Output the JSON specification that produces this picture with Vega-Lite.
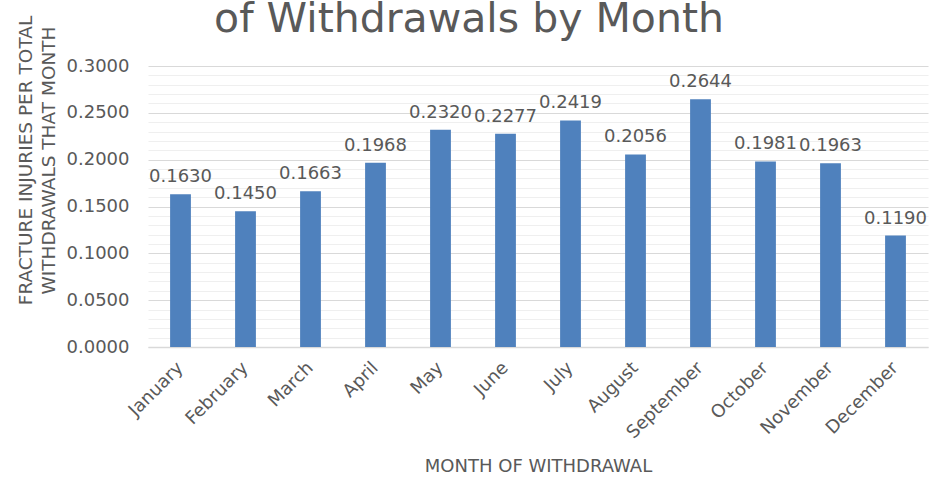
{
  "$schema": "https://vega.github.io/schema/vega-lite/v6.json",
  "width": 780,
  "height": 281,
  "autosize": {"type": "none"},
  "padding": {"left": 148, "top": 66, "right": 1, "bottom": 131},
  "background": "white",
  "config": {"view": {"stroke": null}, "font": "DejaVu Sans"},
  "title": {
    "text": "of Withdrawals by Month",
    "fontSize": 41,
    "font": "DejaVu Sans",
    "fontWeight": "normal",
    "color": "#595959",
    "anchor": "middle",
    "frame": "group",
    "dx": -69,
    "dy": 58,
    "baseline": "alphabetic",
    "offset": 0
  },
  "data": {
    "values": [
      {"month": "January", "value": 0.1630},
      {"month": "February", "value": 0.1450},
      {"month": "March", "value": 0.1663},
      {"month": "April", "value": 0.1968},
      {"month": "May", "value": 0.2320},
      {"month": "June", "value": 0.2277},
      {"month": "July", "value": 0.2419},
      {"month": "August", "value": 0.2056},
      {"month": "September", "value": 0.2644},
      {"month": "October", "value": 0.1981},
      {"month": "November", "value": 0.1963},
      {"month": "December", "value": 0.1190}
    ]
  },
  "encoding": {
    "x": {
      "field": "month",
      "type": "nominal",
      "sort": null,
      "scale": {"paddingInner": 0.68, "paddingOuter": 0.34},
      "axis": {
        "title": "MONTH OF WITHDRAWAL",
        "titleFontSize": 18,
        "titleColor": "#595959",
        "titleFontWeight": "normal",
        "titleY": 119,
        "titleBaseline": "middle",
        "labelAngle": -45,
        "labelAlign": "right",
        "labelBaseline": "middle",
        "labelFontSize": 18,
        "labelColor": "#595959",
        "labelPadding": 18,
        "labelOverlap": false,
        "labelBound": false,
        "ticks": false,
        "tickSize": 0,
        "domainColor": "#D9D9D9",
        "domainWidth": 1.5
      }
    },
    "y": {
      "field": "value",
      "type": "quantitative",
      "scale": {"domain": [0, 0.3], "nice": false},
      "axis": {
        "values": [0, 0.01, 0.02, 0.03, 0.04, 0.05, 0.06, 0.07, 0.08, 0.09, 0.1, 0.11, 0.12, 0.13, 0.14, 0.15, 0.16, 0.17, 0.18, 0.19, 0.2, 0.21, 0.22, 0.23, 0.24, 0.25, 0.26, 0.27, 0.28, 0.29, 0.3],
        "format": ".4f",
        "labelExpr": "round(datum.value * 100) % 5 === 0 ? datum.label : ''",
        "gridColor": {"condition": {"test": "round(datum.value * 100) % 5 === 0", "value": "#D9D9D9"}, "value": "#EFEFEF"},
        "gridWidth": 1,
        "domain": false,
        "ticks": false,
        "tickSize": 0,
        "labelPadding": 19,
        "labelFontSize": 18,
        "labelColor": "#595959",
        "labelOverlap": false,
        "labelBound": false,
        "title": ["FRACTURE INJURIES PER TOTAL", "WITHDRAWALS THAT MONTH"],
        "titleFontSize": 18.5,
        "titleFontWeight": "normal",
        "titleColor": "#595959",
        "titleLineHeight": 23,
        "titleAlign": "center",
        "titleBaseline": "middle",
        "titleAngle": -90,
        "titleX": -123,
        "titleY": 94
      }
    }
  },
  "layer": [
    {"mark": {"type": "bar", "color": "#4F81BD"}},
    {
      "mark": {"type": "text", "baseline": "alphabetic", "dy": -12, "fontSize": 18, "color": "#595959"},
      "encoding": {"text": {"field": "value", "type": "quantitative", "format": ".4f"}}
    }
  ]
}
